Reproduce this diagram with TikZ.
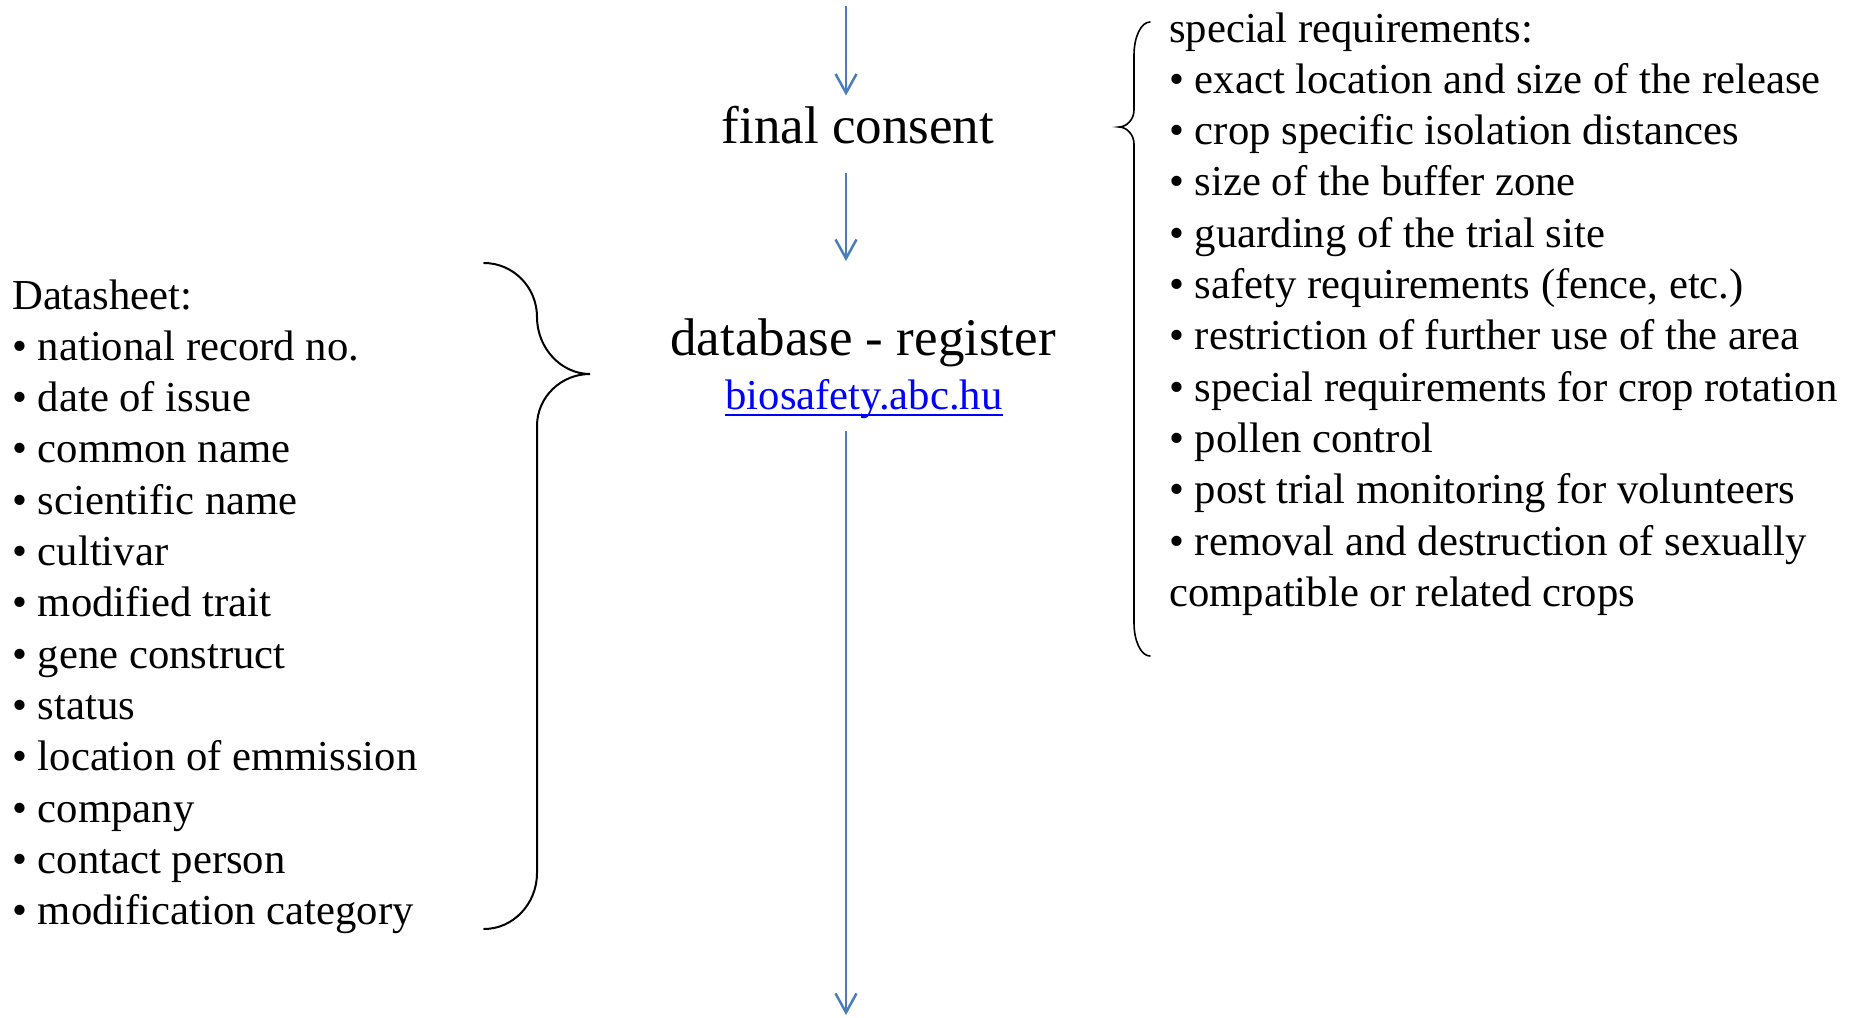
\documentclass[tikz,border=0pt]{standalone}
\usepackage{fontspec}
\setmainfont{Liberation Serif}
\usetikzlibrary{arrows.meta}
\definecolor{arrowblue}{RGB}{74,126,187}
\definecolor{linkblue}{RGB}{0,0,255}

\begin{document}
\begin{tikzpicture}[x=1pt,y=-1pt,
    title/.style={inner sep=0pt,anchor=base,font=\fontsize{53}{64}\selectfont},
    item/.style={inner sep=0pt,anchor=base west,font=\fontsize{42.7}{51}\selectfont},
    flow/.style={draw=arrowblue,line width=2.5pt,-{Straight Barb[length=19pt,width=21pt]}},
    brace/.style={draw=black,line cap=round}]
    \useasboundingbox (0,0) rectangle (1851,1017);

    \coordinate (src) at (846,6);
    \coordinate (sink) at (846,1015);

    \node[title] (consent) at (858,143) {final consent};
    \node[title] (register) at (863,355) {database - register};
    \node[item,anchor=base,text=linkblue] (web) at (864,409) {biosafety.abc.hu};
    \draw[linkblue,line width=2.5pt]
    ([yshift=-6pt]web.base west) -- ([yshift=-6pt]web.base east);

    \draw[flow,shorten >=10pt] (src) -- (src |- consent.north);
    \draw[flow,shorten <=29pt,shorten >=57pt] (consent.south -| src) -- (register.north -| src);
    \draw[flow,shorten <=13pt] (web.south -| src) -- (sink);

    \foreach \t [count=\i from 0] in {Datasheet:, • national record no., • date of issue,
      • common name, • scientific name, • cultivar, • modified trait, • gene construct,
      • status, • location of emmission, • company, • contact person,
      • modification category}
    \node[item] (data\i) at (12,309+51.3*\i) {\t};

    \foreach \t [count=\i from 0] in {special requirements:,
      • exact location and size of the release, • crop specific isolation distances,
      • size of the buffer zone, • guarding of the trial site,
      {• safety requirements (fence, etc.)}, • restriction of further use of the area,
      • special requirements for crop rotation, • pollen control,
      • post trial monitoring for volunteers, • removal and destruction of sexually,
      compatible or related crops}
    \node[item] (req\i) at (1169,42+51.3*\i) {\t};

    \draw[brace,line width=2pt]
    (484,263) .. controls (513,263) and (537,287) .. (537,317)
    .. controls (537,348) and (561,374) .. (590,374)
    .. controls (561,374) and (537,397) .. (537,426)
    -- (537,873)
    .. controls (537,904) and (513,929) .. (484,929);

    \draw[brace,line width=1.6pt]
    (1150,22) .. controls (1141,22) and (1134,37) .. (1134,55)
    -- (1134,110)
    .. controls (1134,119) and (1127,127) .. (1119,127)
    .. controls (1127,127) and (1134,135) .. (1134,144)
    -- (1134,623)
    .. controls (1134,641) and (1141,656) .. (1150,656);

\end{tikzpicture}
\end{document}
